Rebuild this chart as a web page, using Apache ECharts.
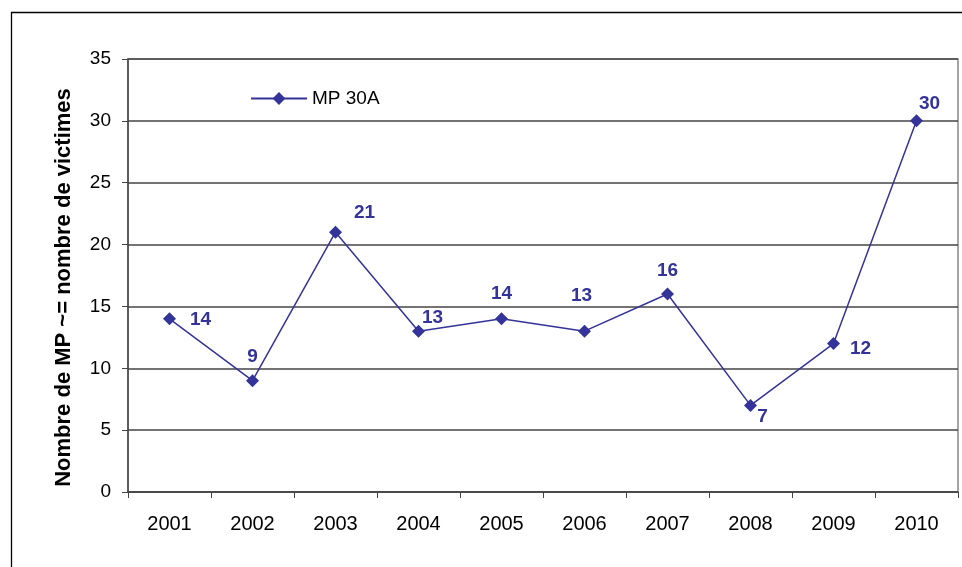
<!DOCTYPE html>
<html><head><meta charset="utf-8">
<script src="https://cdn.jsdelivr.net/npm/echarts@6/dist/echarts.min.js"></script>
<style>html,body{margin:0;padding:0;background:#fff}#c{width:962px;height:567px}</style>
</head><body><div id="c"></div>
<script>
const categories = ['2001','2002','2003','2004','2005','2006','2007','2008','2009','2010'];
const seriesName = 'MP 30A';
const values = [14, 9, 21, 13, 14, 13, 16, 7, 12, 30];
const yTicks = [0, 5, 10, 15, 20, 25, 30, 35];
const yTitle = 'Nombre de MP ~= nombre de victimes';
// label offsets (style only)
const labelOffsets = [[31,1],[0,-24],[29,-19],[14,-13],[0,-25],[-3,-35],[0,-23],[12,11],[27,5],[13,-17]];

const chart = echarts.init(document.getElementById('c'));
const color = '#333399';
chart.setOption({
  animation: false,
  graphic: [
    {type:'rect', shape:{x:11.5,y:12.5,width:980,height:600}, style:{fill:null, stroke:'#000', lineWidth:1.3}, silent:true},
    {type:'text', x:64, y:287.5, rotation:Math.PI/2, style:{text:yTitle, fontFamily:'Liberation Sans', fontSize:22, fontWeight:'bold', fill:'#000', align:'center', verticalAlign:'middle'}}
  ],
  grid: {left:128, top:59, right:4, bottom:75, show:true, borderColor:'#888', borderWidth:1.5},
  legend: {left:245, top:84, itemWidth:56, itemHeight:16, itemGap:5,
    textStyle:{fontFamily:'Liberation Sans', fontSize:19, color:'#000'},
    data:[seriesName]},
  xAxis: {type:'category', data:categories, boundaryGap:true,
    axisLine:{lineStyle:{color:'#444', width:1.5}},
    axisTick:{show:true, interval:0, length:6, lineStyle:{color:'#444'}},
    axisLabel:{fontFamily:'Liberation Sans', fontSize:20, color:'#000', margin:22}},
  yAxis: {type:'value', min:0, max:35, interval:5,
    axisLine:{show:true, lineStyle:{color:'#444', width:1.5}},
    axisTick:{show:true, length:6, inside:false, lineStyle:{color:'#444'}},
    axisLabel:{fontFamily:'Liberation Sans', fontSize:19, color:'#000', margin:17},
    splitLine:{lineStyle:{color:'#444', width:1.6}}},
  series: [{
    name: seriesName, type:'line', data: values.map((v,i)=>({value:v, label:{offset:labelOffsets[i]}})),
    symbol:'diamond', symbolSize:[13,13], lineStyle:{color:color, width:1.5}, itemStyle:{color:color},
    label:{show:true, position:'inside', align:'center', verticalAlign:'middle',
      fontFamily:'Liberation Sans', fontSize:19, fontWeight:'bold', color:color}
  }]
});
</script></body></html>
